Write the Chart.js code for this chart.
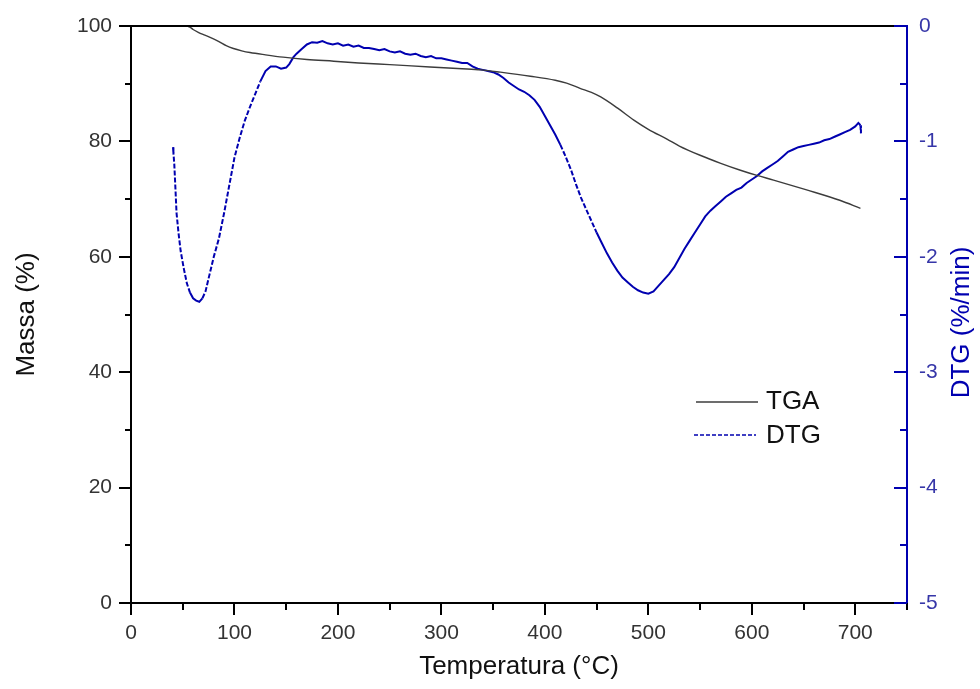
<!DOCTYPE html>
<html>
<head>
<meta charset="utf-8">
<script src="https://cdn.jsdelivr.net/npm/chart.js@4"></script>
<style>
  body { margin: 0; background: #fff; }
  canvas { display: block; }
</style>
</head>
<body>
<canvas id="tgaChart" width="980" height="689"></canvas>
<script>
// TGA curve: temperature (°C) and remaining mass (%)
const tgaTemp = [54, 57, 60, 65, 70, 77, 85, 92, 99, 107, 115, 130, 147, 170, 196, 220, 250, 289, 320, 338,
  357, 386, 410, 421, 434, 445, 454, 470, 486, 500, 518, 530, 550, 570, 589, 605, 621, 653, 685, 705];
const tgaMass = [100, 99.8, 99.4, 98.9, 98.5, 98.0, 97.3, 96.6, 96.1, 95.7, 95.4, 95.0, 94.6, 94.2, 93.9, 93.6, 93.3, 92.9, 92.6, 92.4,
  92.0, 91.3, 90.6, 90.1, 89.2, 88.5, 87.7, 85.8, 83.7, 82.1, 80.4, 79.2, 77.6, 76.2, 75.0, 74.1, 73.3, 71.6, 69.8, 68.4];

// DTG curve: temperature (°C) and mass loss rate (%/min)
const dtgTemp = [40.6, 41, 41.8, 43, 44, 46, 48, 51, 54, 57, 60, 63, 66, 69, 72, 76, 80, 85, 90, 95,
  100, 105, 110, 115, 120, 125, 130, 135, 140, 145, 150, 153, 157, 160, 165, 170, 175, 180, 185, 190,
  195, 200, 205, 210, 215, 220, 225, 230, 235, 240, 245, 250, 255, 260, 265, 270, 275, 280, 285, 290,
  295, 300, 305, 310, 315, 320, 325, 330, 335, 340, 345, 350, 355, 360, 365, 370, 375, 380, 385, 390,
  395, 400, 405, 410, 415, 420, 425, 430, 435, 440, 445, 450, 455, 460, 465, 470, 475, 480, 485, 490,
  495, 500, 505, 510, 515, 520, 525, 530, 535, 540, 545, 550, 555, 560, 565, 570, 575, 580, 585, 590,
  595, 600, 605, 610, 615, 620, 625, 630, 635, 640, 645, 650, 655, 660, 665, 670, 675, 680, 685, 690,
  695, 700, 703, 705, 705.5];
const dtgRate = [-1.05, -1.10, -1.19, -1.42, -1.62, -1.80, -1.95, -2.10, -2.23, -2.31, -2.36, -2.38, -2.39, -2.36, -2.30, -2.15, -2.00, -1.84, -1.62, -1.38,
  -1.14, -0.97, -0.82, -0.70, -0.59, -0.48, -0.39, -0.35, -0.35, -0.37, -0.36, -0.33, -0.27, -0.24, -0.20, -0.16, -0.14, -0.145, -0.13, -0.15,
  -0.16, -0.15, -0.17, -0.16, -0.18, -0.17, -0.19, -0.19, -0.20, -0.21, -0.20, -0.22, -0.23, -0.22, -0.24, -0.25, -0.24, -0.26, -0.27, -0.26,
  -0.28, -0.28, -0.29, -0.30, -0.31, -0.32, -0.32, -0.35, -0.37, -0.38, -0.39, -0.40, -0.42, -0.45, -0.49, -0.52, -0.55, -0.57, -0.60, -0.64,
  -0.70, -0.78, -0.86, -0.94, -1.03, -1.13, -1.24, -1.37, -1.49, -1.59, -1.69, -1.79, -1.88, -1.97, -2.05, -2.12, -2.18, -2.22, -2.26, -2.29,
  -2.31, -2.32, -2.30, -2.25, -2.20, -2.15, -2.09, -2.01, -1.93, -1.86, -1.79, -1.72, -1.65, -1.60, -1.56, -1.52, -1.48, -1.45, -1.42, -1.40,
  -1.36, -1.33, -1.30, -1.26, -1.23, -1.20, -1.17, -1.13, -1.09, -1.07, -1.05, -1.04, -1.03, -1.02, -1.01, -0.99, -0.98, -0.96, -0.94, -0.92,
  -0.90, -0.87, -0.84, -0.86, -0.93];

// axis ticks
const xTicks = [0, 100, 200, 300, 400, 500, 600, 700];
const massTicks = [0, 20, 40, 60, 80, 100];
const dtgTicks = [-5, -4, -3, -2, -1, 0];

const FONT = "'Liberation Sans', Arial, sans-serif";
const BLUE = "#0000b0";
const GREY = "#3c3c3c";

function toPoints(xs, ys) {
  return xs.map((x, i) => ({ x: x, y: ys[i] }));
}

// dashed only where the DTG trace runs steeply
function steepDash(seg) {
  const dx = Math.abs(seg.p1.x - seg.p0.x);
  const dy = Math.abs(seg.p1.y - seg.p0.y);
  return dy > dx * 2.2 ? [5, 2] : undefined;
}

// ticks, frame, titles and legend drawn by hand
const decorations = {
  id: "decorations",
  afterDraw(chart) {
    const ctx = chart.ctx;
    const a = chart.chartArea;
    const sx = chart.scales.x, sy = chart.scales.y, sd = chart.scales.y2;
    ctx.save();
    ctx.lineWidth = 2;

    // top frame line
    ctx.strokeStyle = "#000";
    ctx.beginPath();
    ctx.moveTo(a.left, a.top);
    ctx.lineTo(a.right, a.top);
    ctx.stroke();

    // x ticks (major every 100, minor every 50)
    ctx.beginPath();
    for (let v = 0; v <= 750; v += 50) {
      const px = Math.round(sx.getPixelForValue(v));
      ctx.moveTo(px, a.bottom);
      ctx.lineTo(px, a.bottom + (v % 100 === 0 ? 12 : 7));
    }
    // left ticks
    for (let v = 0; v <= 100; v += 10) {
      const py = Math.round(sy.getPixelForValue(v));
      ctx.moveTo(a.left, py);
      ctx.lineTo(a.left - (v % 20 === 0 ? 12 : 6), py);
    }
    ctx.stroke();

    // right ticks point inward
    ctx.strokeStyle = BLUE;
    ctx.beginPath();
    for (let v = -5; v <= 0; v += 0.5) {
      const py = Math.round(sd.getPixelForValue(v));
      ctx.moveTo(a.right, py);
      ctx.lineTo(a.right - (Number.isInteger(v) ? 13 : 7), py);
    }
    ctx.stroke();

    // axis titles
    ctx.font = "26px " + FONT;
    ctx.textAlign = "center";
    ctx.textBaseline = "middle";
    ctx.fillStyle = "#111";
    ctx.fillText("Temperatura (°C)", (a.left + a.right) / 2, 667);
    ctx.save();
    ctx.translate(27, (a.top + a.bottom) / 2);
    ctx.rotate(-Math.PI / 2);
    ctx.fillText("Massa (%)", 0, 0);
    ctx.restore();
    ctx.save();
    ctx.fillStyle = BLUE;
    ctx.translate(962, (a.top + a.bottom) / 2 + 8);
    ctx.rotate(-Math.PI / 2);
    ctx.fillText("DTG (%/min)", 0, 0);
    ctx.restore();

    // legend
    ctx.textAlign = "left";
    ctx.fillStyle = "#111";
    ctx.lineWidth = 1.4;
    ctx.strokeStyle = GREY;
    ctx.beginPath();
    ctx.moveTo(696, 402);
    ctx.lineTo(758, 402);
    ctx.stroke();
    ctx.fillText("TGA", 766, 402);
    ctx.strokeStyle = BLUE;
    ctx.setLineDash([4, 2]);
    ctx.beginPath();
    ctx.moveTo(694, 435);
    ctx.lineTo(756, 435);
    ctx.stroke();
    ctx.setLineDash([]);
    ctx.fillText("DTG", 766, 436);
    ctx.restore();
  }
};

new Chart(document.getElementById("tgaChart"), {
  type: "line",
  data: {
    datasets: [
      {
        label: "TGA",
        data: toPoints(tgaTemp, tgaMass),
        yAxisID: "y",
        borderColor: GREY,
        borderWidth: 1.4,
        pointRadius: 0,
        cubicInterpolationMode: "monotone",
      },
      {
        label: "DTG",
        data: toPoints(dtgTemp, dtgRate),
        yAxisID: "y2",
        borderColor: BLUE,
        borderWidth: 2,
        pointRadius: 0,
        tension: 0,
        segment: { borderDash: steepDash },
      },
    ],
  },
  options: {
    responsive: false,
    animation: false,
    layout: { padding: { top: 26, left: 0, right: 0, bottom: 0 } },
    plugins: { legend: { display: false }, tooltip: { enabled: false } },
    scales: {
      x: {
        type: "linear",
        min: 0,
        max: 750,
        afterBuildTicks: (s) => { s.ticks = xTicks.map((v) => ({ value: v })); },
        afterFit: (s) => { s.height = 86; },
        grid: { display: false },
        border: { color: "#000", width: 2 },
        ticks: { color: "#333", font: { family: FONT, size: 21 }, padding: 10, maxRotation: 0 },
      },
      y: {
        position: "left",
        min: 0,
        max: 100,
        afterBuildTicks: (s) => { s.ticks = massTicks.map((v) => ({ value: v })); },
        afterFit: (s) => { s.width = 131; },
        grid: { display: false },
        border: { color: "#000", width: 2 },
        ticks: { color: "#333", font: { family: FONT, size: 21 }, padding: 11 },
      },
      y2: {
        position: "right",
        min: -5,
        max: 0,
        afterBuildTicks: (s) => { s.ticks = dtgTicks.map((v) => ({ value: v })); },
        afterFit: (s) => { s.width = 73; },
        grid: { display: false },
        border: { color: BLUE, width: 2 },
        ticks: { color: "#3636a8", font: { family: FONT, size: 21 }, padding: 4 },
      },
    },
  },
  plugins: [decorations],
});
</script>
</body>
</html>
